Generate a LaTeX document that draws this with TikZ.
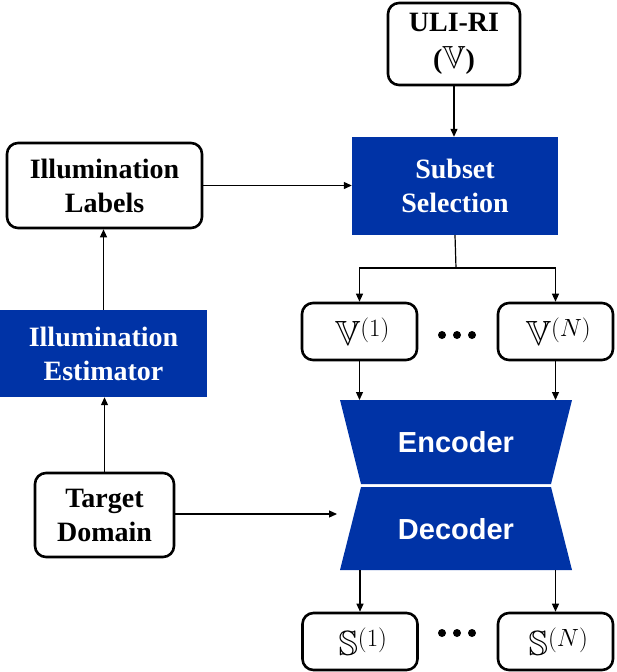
\documentclass[tikz,border=0pt]{standalone}
\usepackage{amssymb}
\usepackage{fontspec}
\setmainfont{Liberation Serif}
\setsansfont{Liberation Sans}
\usetikzlibrary{arrows.meta,calc}
\definecolor{blk}{HTML}{0033A6}
\tikzset{
  wbox/.style={draw=black,line width=2.6pt,rounded corners=11pt,fill=white,align=center,inner sep=0pt,
    font=\fontsize{28}{34}\selectfont\bfseries},
  bbox/.style={fill=blk,text=white,align=center,inner sep=0pt,
    font=\fontsize{28}{34}\selectfont\bfseries},
  mbox/.style={draw=black,line width=2.6pt,rounded corners=11pt,fill=white,inner sep=0pt,
    minimum width=115pt,minimum height=57pt,font=\fontsize{35}{40}\selectfont},
  arr/.style={line width=1.2pt,-{Triangle[length=8pt,width=7pt]}},
  ln/.style={line width=1.2pt},
  dotc/.style={circle,fill=black,inner sep=0pt,minimum size=8pt},
  trap/.style={fill=blk},
  trtext/.style={text=white,font=\fontsize{29}{34}\selectfont\sffamily\bfseries}
}
\begin{document}
\begin{tikzpicture}[x=1pt,y=-1pt]
\useasboundingbox (0,0) rectangle (616,672);
% nodes
\node[wbox,minimum width=132pt,minimum height=82pt] (uli) at (454,44) {ULI-RI\\[3pt]({\fontsize{32}{34}\selectfont$\mathbb{V}$})};
\node[bbox,minimum width=206pt,minimum height=98pt] (sub) at (455,186) {Subset\\Selection};
\node[wbox,minimum width=195pt,minimum height=85pt] (lab) at (104.5,185.5) {Illumination\\Labels};
\node[bbox,minimum width=207pt,minimum height=87pt] (est) at (103.5,353.5) {Illumination\\Estimator};
\node[wbox,minimum width=139pt,minimum height=84pt] (tgt) at (104.5,515) {Target\\Domain};
\node[mbox] (v1) at (359.5,331.5) {\hspace*{6pt}$\mathbb{V}^{(1)}$};
\node[mbox] (vn) at (555.5,331.5) {\hspace*{6pt}$\mathbb{V}^{(N)}$};
\node[mbox] (s1) at (360,641.5) {\hspace*{6pt}$\mathbb{S}^{(1)}$};
\node[mbox] (sn) at (555.5,641.5) {\hspace*{6pt}$\mathbb{S}^{(N)}$};
% dots
\node[dotc] (d1) at (442,335) {};
\node[dotc] (d2) at (457,335) {};
\node[dotc] (d3) at (472,335) {};
\node[dotc] (e1) at (442,633) {};
\node[dotc] (e2) at (457,633) {};
\node[dotc] (e3) at (472,633) {};
% encoder / decoder
\fill[trap] (340,400) -- (572,400) -- (551,484) -- (361,484) -- cycle;
\fill[trap] (361,487) -- (551,487) -- (572,570) -- (340,570) -- cycle;
\node[trtext] (enc) at (456,442) {Encoder};
\node[trtext] (dec) at (456,529) {Decoder};
\coordinate (enctop) at (456,400);
\coordinate (decbot) at (456,570);
\coordinate (decin) at (337,514);
\coordinate (split) at (456,268);
% connectors
\draw[arr] (uli.south) -- (uli.south |- sub.north);
\draw[arr] (lab.east) -- (lab.east -| sub.west);
\draw[ln] (sub.south) -- (split);
\draw[arr] (split) -| (v1.north);
\draw[arr] (split) -| (vn.north);
\draw[arr] (v1.south) -- (v1.south |- enctop);
\draw[arr] (vn.south) -- (vn.south |- enctop);
\draw[arr] (tgt.east |- decin) -- (decin);
\draw[arr] (tgt.north) -- (tgt.north |- est.south);
\draw[arr] (est.north) -- (est.north |- lab.south);
\draw[arr] (s1.north |- decbot) -- (s1.north);
\draw[arr] (sn.north |- decbot) -- (sn.north);
\end{tikzpicture}
\end{document}
